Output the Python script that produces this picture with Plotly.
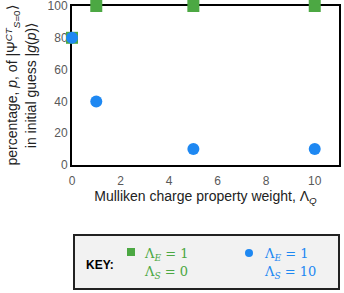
import plotly.graph_objects as go

x_vals = [0, 1, 5, 10]
green_vals = [80, 100, 100, 100]
blue_vals = [80, 40, 10, 10]
x_ticks = [0, 2, 4, 6, 8, 10]
y_ticks = [0, 20, 40, 60, 80, 100]

GREEN = "#4CA843"
BLUE = "#1E88F2"
FONT = "Liberation Sans"

fig = go.Figure()
fig.add_trace(go.Scatter(x=x_vals, y=green_vals, mode="markers",
                         marker=dict(symbol="square", size=12, color=GREEN),
                         cliponaxis=False, showlegend=False, hoverinfo="skip"))
fig.add_trace(go.Scatter(x=x_vals, y=blue_vals, mode="markers",
                         marker=dict(symbol="circle", size=12, color=BLUE),
                         cliponaxis=False, showlegend=False, hoverinfo="skip"))

L, R, T, B = 72, 5, 6, 128
W, H = 344, 293
pw = W - L - R
ph = H - T - B

def px(x):
    return (x - L) / pw

def py(y):
    return (H - B - y) / ph

fig.update_layout(
    width=W, height=H,
    margin=dict(l=L, r=R, t=T, b=B, autoexpand=False),
    paper_bgcolor="white", plot_bgcolor="white",
    font=dict(family=FONT, size=12, color="#595959"),
    xaxis=dict(range=[0, 11], tickvals=x_ticks, showgrid=False, zeroline=False,
               showline=True, linecolor="black", linewidth=2, mirror=True,
               ticks="", layer="below traces", automargin=False,
               ticklabeloverflow="allow", ticklabelstandoff=4,
               title=dict(text="Mulliken charge property weight, Λ<sub><i>Q</i></sub>",
                          font=dict(size=14, color="#222222"), standoff=3)),
    yaxis=dict(range=[0, 100], tickvals=y_ticks, showgrid=False, zeroline=False,
               showline=True, linecolor="black", linewidth=2, mirror=True,
               ticks="", layer="below traces", automargin=False,
               ticklabeloverflow="allow",
               title=dict(text="percentage, <i>p</i>, of |Ψ<sup><i>CT</i></sup><sub><i>S</i>=0</sub>⟩<br>in initial guess |<i>g</i>(<i>p</i>)⟩",
                          font=dict(size=14, color="#222222"), standoff=8)),
)

# key box
fig.add_shape(type="rect", xref="paper", yref="paper",
              x0=px(74), x1=px(339), y0=py(235), y1=py(289),
              fillcolor="#F2F2F2", line=dict(color="#222222", width=2))
fig.add_annotation(xref="paper", yref="paper", x=px(84), y=py(265), xanchor="left",
                   yanchor="middle", text="<b>KEY:</b>", showarrow=False,
                   font=dict(family=FONT, size=12, color="black"))
fig.add_shape(type="rect", xref="paper", yref="paper",
              x0=px(127), x1=px(135), y0=py(256), y1=py(248),
              fillcolor=GREEN, line=dict(width=0))
fig.add_shape(type="circle", xref="paper", yref="paper",
              x0=px(245), x1=px(253), y0=py(257), y1=py(249),
              fillcolor=BLUE, line=dict(width=0))
for xx, col, l1, l2 in [(142, GREEN, "Λ<sub><i>E</i></sub> = 1", "Λ<sub><i>S</i></sub> = 0"),
                        (262, BLUE, "Λ<sub><i>E</i></sub> = 1", "Λ<sub><i>S</i></sub> = 10")]:
    fig.add_annotation(xref="paper", yref="paper", x=px(xx), y=py(254), xanchor="left",
                       yanchor="middle", text=l1, showarrow=False,
                       font=dict(family="DejaVu Serif", size=13, color=col))
    fig.add_annotation(xref="paper", yref="paper", x=px(xx), y=py(272), xanchor="left",
                       yanchor="middle", text=l2, showarrow=False,
                       font=dict(family="DejaVu Serif", size=13, color=col))

fig.write_html("out.html", config={"displayModeBar": False},
               post_script="document.body.style.margin='0';document.body.style.overflow='hidden';")
